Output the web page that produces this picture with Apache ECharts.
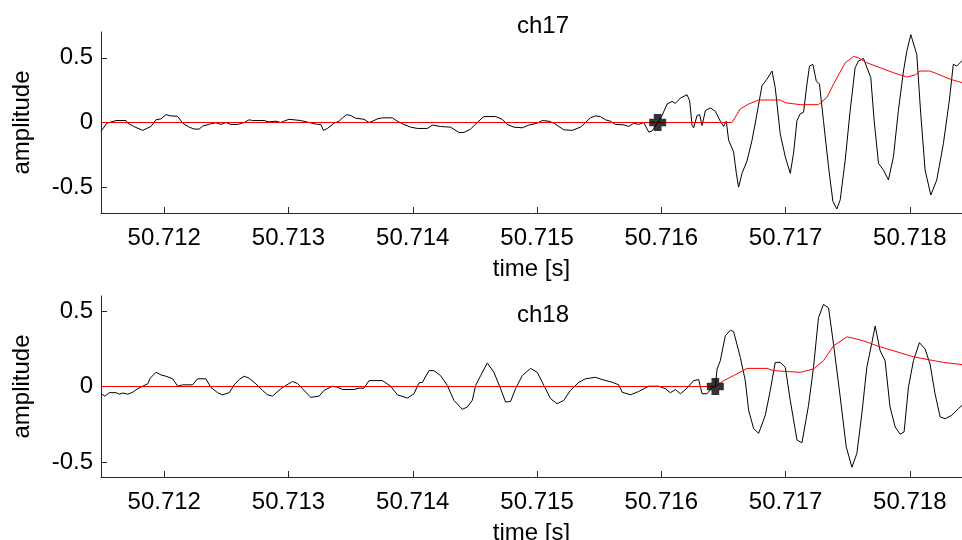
<!DOCTYPE html>
<html>
<head>
<meta charset="utf-8">
<title>ch17 / ch18</title>
<script src="https://cdn.jsdelivr.net/npm/echarts@6/dist/echarts.min.js"></script>
<style>
  html, body { margin: 0; padding: 0; background: #fff; }
  #chart { width: 962px; height: 540px; }
</style>
</head>
<body>
<div id="chart"></div>
<script>
// Time base: samples are given in milliseconds after 50.710 s
const T0 = 50.710;

// ch17 raw trace
const ch17Ms = [1.491,1.539,1.555,1.612,1.692,1.706,1.756,1.826,1.893,1.933,1.973,2.014,2.054,2.108,2.148,2.201,2.241,2.281,2.309,2.375,2.416,2.456,2.496,2.536,2.590,2.643,2.683,2.711,2.804,2.842,2.898,2.938,2.962,3.005,3.019,3.099,3.166,3.233,3.260,3.281,3.314,3.367,3.407,3.434,3.469,3.501,3.541,3.608,3.648,3.688,3.715,3.756,3.836,3.876,3.929,3.983,4.037,4.117,4.158,4.224,4.305,4.371,4.412,4.465,4.519,4.572,4.666,4.720,4.760,4.814,4.881,4.934,5.002,5.042,5.095,5.135,5.215,5.283,5.350,5.390,5.430,5.470,5.510,5.551,5.591,5.631,5.698,5.738,5.778,5.818,5.859,5.899,5.926,5.971,6.006,6.047,6.087,6.113,6.154,6.207,6.228,6.248,6.260,6.288,6.309,6.328,6.355,6.395,6.435,6.475,6.502,6.523,6.542,6.582,6.604,6.622,6.650,6.690,6.730,6.770,6.810,6.850,6.891,6.917,6.957,6.998,7.038,7.064,7.092,7.118,7.145,7.172,7.193,7.220,7.247,7.273,7.305,7.346,7.381,7.413,7.440,7.480,7.520,7.560,7.587,7.627,7.686,7.713,7.748,7.788,7.828,7.868,7.908,7.949,7.976,8.008,8.056,8.088,8.123,8.169,8.217,8.270,8.318,8.350,8.378,8.404,8.420];
const ch17Amp = [-0.067,-0.005,-0.005,0.015,0.015,-0.005,-0.031,-0.061,-0.031,0.021,0.028,0.061,0.051,0.048,-0.005,-0.036,-0.051,-0.051,-0.028,-0.010,-0.002,-0.015,0.000,-0.015,-0.015,0.000,0.021,0.015,0.015,0.005,0.010,0.000,0.010,0.025,0.015,0.015,0.000,-0.015,-0.015,-0.061,-0.046,-0.005,0.010,0.036,0.061,0.054,0.033,0.025,0.000,0.015,0.028,0.036,0.036,0.010,-0.015,-0.036,-0.046,-0.046,-0.020,-0.031,-0.036,-0.077,-0.077,-0.051,0.000,0.046,0.046,0.025,-0.015,-0.036,-0.041,-0.020,-0.005,0.015,0.010,-0.005,-0.056,-0.061,-0.036,0.000,0.036,0.051,0.046,0.021,0.010,-0.015,-0.018,-0.031,-0.005,-0.015,0.000,-0.074,-0.066,0.000,0.054,0.143,0.163,0.148,0.189,0.215,0.169,-0.023,-0.041,0.054,0.061,-0.023,0.092,0.113,0.087,0.010,-0.031,0.010,-0.138,-0.228,-0.393,-0.500,-0.393,-0.297,-0.138,0.067,0.284,0.335,0.398,0.270,-0.087,-0.266,-0.393,-0.240,0.015,0.067,0.079,0.297,0.437,0.450,0.322,0.297,0.015,-0.343,-0.611,-0.669,-0.598,-0.291,0.092,0.424,0.475,0.496,0.347,0.015,-0.316,-0.368,-0.444,-0.266,0.092,0.398,0.552,0.680,0.526,0.067,-0.368,-0.561,-0.444,-0.164,0.169,0.450,0.437,0.462,0.480];

// ch17 envelope (red)
const ch17EnvMs = [1.491,6.569,6.636,6.703,6.783,6.957,6.998,7.118,7.265,7.333,7.386,7.480,7.547,7.587,7.654,7.761,7.868,7.976,8.043,8.083,8.163,8.243,8.324,8.420];
const ch17Env = [0,0,0.105,0.143,0.174,0.174,0.153,0.138,0.138,0.194,0.297,0.462,0.511,0.500,0.462,0.424,0.385,0.352,0.368,0.398,0.398,0.368,0.335,0.309];

// ch18 raw trace
const ch18Ms = [1.491,1.523,1.558,1.612,1.638,1.668,1.706,1.746,1.786,1.826,1.867,1.887,1.933,1.973,2.014,2.068,2.108,2.148,2.228,2.268,2.335,2.375,2.429,2.469,2.523,2.563,2.603,2.643,2.683,2.737,2.791,2.831,2.871,2.938,2.978,3.032,3.072,3.113,3.179,3.246,3.286,3.354,3.394,3.434,3.527,3.568,3.608,3.648,3.756,3.822,3.876,3.907,3.957,4.010,4.050,4.078,4.130,4.170,4.224,4.278,4.331,4.399,4.439,4.479,4.506,4.546,4.600,4.653,4.707,4.747,4.787,4.827,4.881,4.948,5.002,5.055,5.109,5.162,5.215,5.269,5.336,5.390,5.470,5.524,5.605,5.658,5.685,5.752,5.818,5.899,5.979,6.033,6.073,6.113,6.154,6.207,6.260,6.301,6.328,6.368,6.409,6.435,6.449,6.475,6.515,6.556,6.582,6.636,6.676,6.703,6.743,6.783,6.837,6.877,6.917,6.957,6.998,7.038,7.092,7.132,7.185,7.225,7.265,7.305,7.346,7.386,7.440,7.488,7.534,7.574,7.614,7.654,7.695,7.721,7.761,7.801,7.841,7.882,7.922,7.954,7.989,8.029,8.077,8.123,8.163,8.203,8.244,8.284,8.338,8.391,8.420];
const ch18Amp = [-0.048,-0.064,-0.041,-0.041,-0.051,-0.043,-0.051,-0.038,-0.015,0.002,0.018,0.055,0.094,0.077,0.068,0.051,0.002,0.011,0.011,0.051,0.051,-0.005,-0.041,-0.055,-0.041,0.011,0.046,0.068,0.055,0.018,-0.026,-0.055,-0.064,-0.015,0.007,0.033,0.020,-0.015,-0.072,-0.064,-0.026,0.002,-0.005,-0.020,-0.020,-0.011,-0.011,0.039,0.039,0.002,-0.055,-0.063,-0.077,-0.048,0.024,0.028,0.105,0.105,0.072,0.007,-0.092,-0.151,-0.136,-0.092,0.007,0.072,0.156,0.094,-0.015,-0.103,-0.099,-0.015,0.072,0.120,0.094,0.007,-0.081,-0.114,-0.092,-0.026,0.028,0.051,0.061,0.046,0.028,0.011,-0.038,-0.055,-0.033,0.002,0.002,-0.015,-0.041,-0.020,-0.048,-0.011,0.039,0.046,-0.048,-0.048,-0.007,0.000,0.116,0.171,0.336,0.373,0.364,0.193,0.039,-0.158,-0.278,-0.311,-0.191,-0.026,0.160,0.160,0.127,-0.092,-0.355,-0.373,-0.125,0.127,0.456,0.544,0.522,0.281,-0.070,-0.399,-0.535,-0.443,-0.180,0.127,0.291,0.401,0.237,0.171,-0.136,-0.268,-0.316,-0.301,-0.005,0.171,0.291,0.248,0.149,-0.048,-0.202,-0.213,-0.191,-0.147,-0.125];

// ch18 envelope (red)
const ch18EnvMs = [1.491,6.435,6.502,6.582,6.690,6.850,6.904,7.118,7.225,7.305,7.386,7.494,7.547,7.627,7.735,7.868,8.029,8.163,8.270,8.420];
const ch18Env = [0,0,0.039,0.072,0.120,0.120,0.105,0.094,0.116,0.171,0.270,0.329,0.320,0.303,0.270,0.237,0.197,0.176,0.160,0.145];

// Picked onsets
const pickMs = [5.971, 6.435];
const pickAmp = [0, 0];

// Axis ticks
const xTicks = [50.712, 50.713, 50.714, 50.715, 50.716, 50.717, 50.718];
const yTicks = [-0.5, 0, 0.5];
const titles = ['ch17', 'ch18'];
const xMinMs = 1.491, xMaxMs = 8.420;
const yLimits = [0.7, 0.6];

const toSec = ms => T0 + ms / 1000;
const pairs = (ms, v) => ms.map((m, i) => [toSec(m), v[i]]);

const FONT = 'Liberation Sans, Arial, sans-serif';
const AXIS_COLOR = '#262626';
const plusPath = 'path://M3,0 H8 V3 H11 V8 H8 V11 H3 V8 H0 V3 H3 Z';

const grids = [
  { left: 101, right: 0, top: 32, height: 181, outerBoundsMode: 'none', containLabel: false },
  { left: 101, right: 0, top: 296, height: 181, outerBoundsMode: 'none', containLabel: false }
];

function xAxis(i) {
  return {
    type: 'value', gridIndex: i,
    min: toSec(xMinMs), max: toSec(xMaxMs),
    name: 'time [s]', nameLocation: 'middle', nameGap: 44,
    nameTextStyle: { fontFamily: FONT, fontSize: 24, color: '#000' },
    axisLine: { show: true, onZero: false, lineStyle: { color: AXIS_COLOR, width: 1 } },
    axisTick: { show: true, inside: true, length: 6, customValues: xTicks, lineStyle: { color: AXIS_COLOR } },
    axisLabel: { customValues: xTicks, margin: 13, fontFamily: FONT, fontSize: 24, color: '#000',
      formatter: v => v.toFixed(3) },
    splitLine: { show: false }
  };
}

function yAxis(i) {
  return {
    type: 'value', gridIndex: i,
    min: -yLimits[i], max: yLimits[i],
    name: 'amplitude', nameLocation: 'middle', nameGap: 67,
    nameTextStyle: { fontFamily: FONT, fontSize: 24, color: '#000' },
    axisLine: { show: true, onZero: false, lineStyle: { color: AXIS_COLOR, width: 1 } },
    axisTick: { show: true, inside: true, length: 6, customValues: yTicks, lineStyle: { color: AXIS_COLOR } },
    axisLabel: { customValues: yTicks, margin: 8, fontFamily: FONT, fontSize: 24, color: '#000',
      formatter: v => (v === 0 ? '0' : String(v)) },
    splitLine: { show: false }
  };
}

function traces(i, rawMs, raw, envMs, env) {
  return [
    { type: 'line', xAxisIndex: i, yAxisIndex: i, data: pairs(rawMs, raw),
      showSymbol: false, symbol: 'none', silent: true, animation: false, z: 2,
      lineStyle: { color: '#000', width: 1 } },
    { type: 'line', xAxisIndex: i, yAxisIndex: i, data: pairs(envMs, env),
      showSymbol: false, symbol: 'none', silent: true, animation: false, z: 3,
      lineStyle: { color: '#ff0000', width: 1 } },
    { type: 'scatter', xAxisIndex: i, yAxisIndex: i, data: [[toSec(pickMs[i]), pickAmp[i]]],
      symbol: plusPath, symbolSize: 17, silent: true, animation: false, z: 4,
      itemStyle: { color: '#000' } }
  ];
}

const chart = echarts.init(document.getElementById('chart'), null, { renderer: 'canvas' });
chart.setOption({
  backgroundColor: '#fff',
  animation: false,
  title: [
    { text: titles[0], left: 538, top: 9, textAlign: 'center',
      textStyle: { fontFamily: FONT, fontSize: 24, fontWeight: 'normal', color: '#000' } },
    { text: titles[1], left: 538, top: 298, textAlign: 'center',
      textStyle: { fontFamily: FONT, fontSize: 24, fontWeight: 'normal', color: '#000' } }
  ],
  grid: grids,
  xAxis: [xAxis(0), xAxis(1)],
  yAxis: [yAxis(0), yAxis(1)],
  series: [
    ...traces(0, ch17Ms, ch17Amp, ch17EnvMs, ch17Env),
    ...traces(1, ch18Ms, ch18Amp, ch18EnvMs, ch18Env)
  ]
});
</script>
</body>
</html>
